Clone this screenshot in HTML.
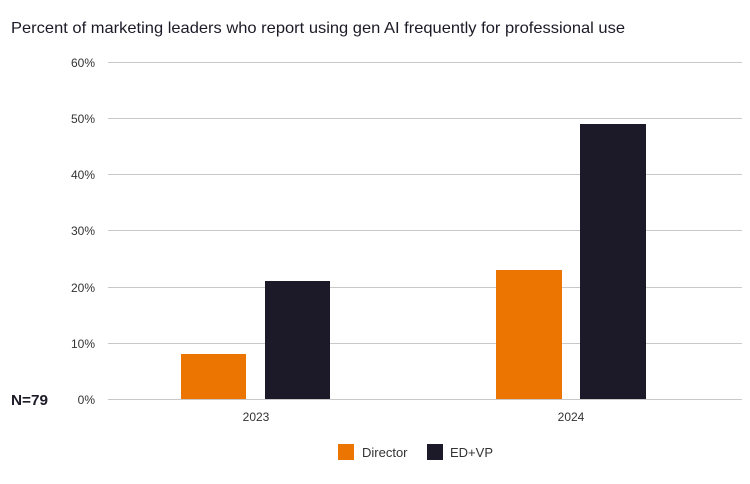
<!DOCTYPE html>
<html><head><style>body{margin:0;background:#fff}svg{display:block}text{font-family:"Liberation Sans",sans-serif}</style></head><body>
<svg width="750" height="484" viewBox="0 0 750 484">
<text x="11" y="33" font-size="16" fill="#1c1a26" textLength="614" lengthAdjust="spacingAndGlyphs">Percent of marketing leaders who report using gen AI frequently for professional use</text>
<g stroke="#c8c8c8" stroke-width="1">
<line x1="108" x2="742" y1="62.5" y2="62.5"/><line x1="108" x2="742" y1="118.5" y2="118.5"/><line x1="108" x2="742" y1="174.5" y2="174.5"/><line x1="108" x2="742" y1="230.5" y2="230.5"/><line x1="108" x2="742" y1="287.5" y2="287.5"/><line x1="108" x2="742" y1="343.5" y2="343.5"/><line x1="108" x2="742" y1="399.5" y2="399.5"/>
</g>
<g font-size="12" fill="#333" text-anchor="end">
<text x="95" y="67">60%</text><text x="95" y="123">50%</text><text x="95" y="179">40%</text><text x="95" y="235">30%</text><text x="95" y="292">20%</text><text x="95" y="348">10%</text><text x="95" y="404">0%</text>
</g>
<text x="11" y="405" font-size="15" fill="#1c1a26" font-weight="bold" textLength="37" lengthAdjust="spacingAndGlyphs">N=79</text>
<rect x="181" y="354" width="65" height="45" fill="#ec7400"/>
<rect x="265" y="281" width="65" height="118" fill="#1c1a29"/>
<rect x="496" y="270" width="66" height="129" fill="#ec7400"/>
<rect x="580" y="124" width="66" height="275" fill="#1c1a29"/>
<g font-size="12" fill="#333" text-anchor="middle"><text x="256" y="421">2023</text><text x="571" y="421">2024</text></g>
<rect x="338" y="444" width="16" height="16" fill="#ec7400"/>
<text x="362" y="457" font-size="13" fill="#333">Director</text>
<rect x="427" y="444" width="16" height="16" fill="#1c1a29"/>
<text x="450" y="457" font-size="13" fill="#333">ED+VP</text>
</svg>
</body></html>
